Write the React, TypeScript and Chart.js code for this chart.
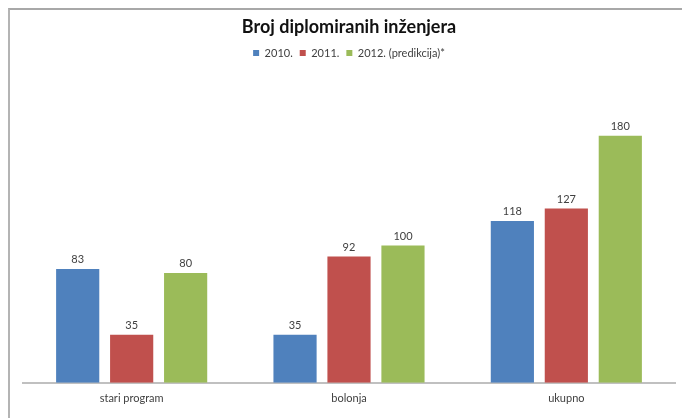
import React, { useEffect, useRef } from "react";
import { Chart, registerables } from "chart.js";

Chart.register(...registerables);

const titleText = "Broj diplomiranih inženjera";
const categories = ["stari program", "bolonja", "ukupno"];
const seriesNames = ["2010.", "2011.", "2012. (predikcija)*"];
const values2010 = [83, 35, 118];
const values2011 = [35, 92, 127];
const values2012 = [80, 100, 180];
const seriesColors = ["#4f81bd", "#c0504d", "#9bbb59"];
const yMax = 229;

const FONT = "Lato, 'Noto Sans', sans-serif";

const dataLabelsPlugin = {
  id: "dataLabels",
  afterDatasetsDraw(chart: any) {
    const ctx = chart.ctx;
    ctx.save();
    ctx.font = `11px ${FONT}`;
    ctx.fillStyle = "#404040";
    ctx.textAlign = "center";
    ctx.textBaseline = "bottom";
    chart.data.datasets.forEach((ds: any, i: number) => {
      const meta = chart.getDatasetMeta(i);
      meta.data.forEach((bar: any, j: number) => {
        ctx.fillText(String(ds.data[j]), bar.x, bar.y - 4);
      });
    });
    ctx.restore();
  },
};

export default function App() {
  const canvasRef = useRef<HTMLCanvasElement | null>(null);

  useEffect(() => {
    if (!canvasRef.current) return;
    const seriesValues = [values2010, values2011, values2012];
    const chart = new Chart(canvasRef.current, {
      type: "bar",
      data: {
        labels: categories,
        datasets: seriesNames.map((name, i) => ({
          label: name,
          data: seriesValues[i],
          backgroundColor: seriesColors[i],
          borderWidth: 0,
          categoryPercentage: 0.745,
          barPercentage: 0.8,
        })),
      },
      options: {
        animation: false,
        responsive: false,
        maintainAspectRatio: false,
        layout: { padding: { left: 23, right: 7, top: 0, bottom: 4 } },
        plugins: {
          title: {
            display: true,
            text: titleText,
            color: "#111111",
            font: { family: FONT, size: 18, weight: "bold" },
            padding: { top: 16, bottom: 3 },
          },
          legend: {
            display: true,
            position: "top",
            labels: {
              boxWidth: 6,
              boxHeight: 6,
              padding: 7,
              color: "#404040",
              font: { family: FONT, size: 11 },
            },
          },
          tooltip: { enabled: false },
        },
        scales: {
          x: {
            grid: { display: false, drawTicks: false },
            border: { display: true, color: "#c0c0c0", width: 2 },
            ticks: {
              color: "#404040",
              font: { family: FONT, size: 11 },
              padding: 9,
            },
          },
          y: {
            display: false,
            min: 0,
            max: yMax,
          },
        },
      },
      plugins: [dataLabelsPlugin],
    });
    return () => chart.destroy();
  }, []);

  return (
    <div>
      <div
        style={{
          position: "fixed",
          left: 8,
          top: 8,
          width: 674,
          height: 410,
          borderTop: "2px solid #a8a8a8",
          borderLeft: "2px solid #b4b4b4",
          boxSizing: "border-box",
        }}
      />
      <canvas
        ref={canvasRef}
        width={682}
        height={418}
        style={{ position: "fixed", left: 0, top: 0, width: 682, height: 418 }}
      />
    </div>
  );
}
